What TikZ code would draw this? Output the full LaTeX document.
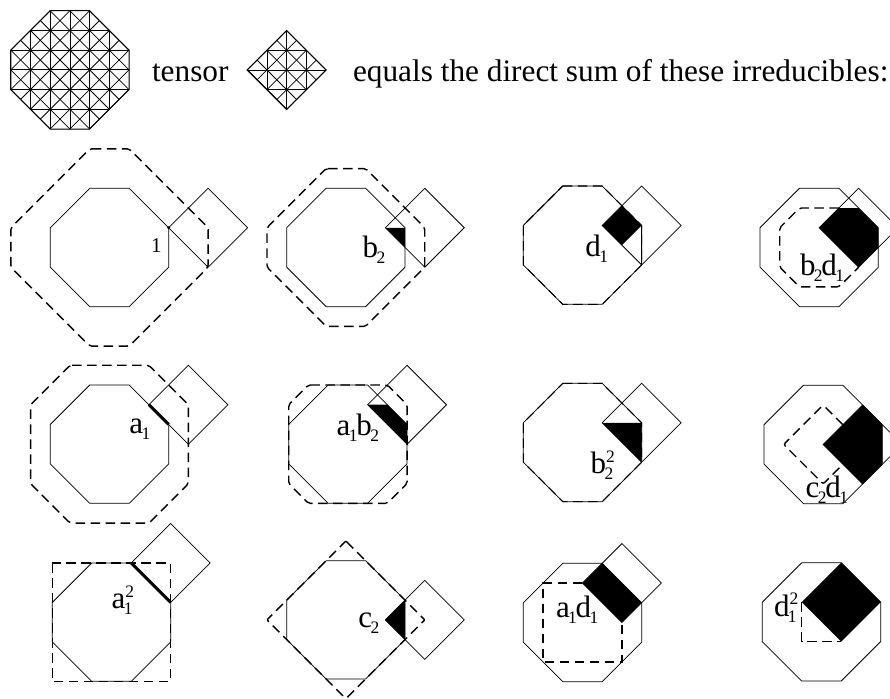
\documentclass[tikz,border=0pt]{standalone}
\usepackage{fontspec}
\setmainfont{Liberation Serif}
\newcommand\lsub[1]{\kern-.05em\raisebox{-.2em}{\fontsize{17.5}{17.5}\selectfont #1}\kern-.04em}
\newcommand\lsup[1]{\raisebox{.36em}{\fontsize{17.5}{17.5}\selectfont #1}}
\newcommand\lboth[2]{\rlap{\lsub{#1}}\lsup{#2}}
\newcommand\octapath{(1,0) -- (2,0) -- (3,1) -- (3,2) -- (2,3) -- (1,3) -- (0,2) -- (0,1) -- cycle}
\newcommand\diam[2]{\draw[thinline] (#1,#2) +(0,-1) -- +(1,0) -- +(0,1) -- +(-1,0) -- cycle;}
\tikzset{
  thinline/.style={draw=black,line width=0.75pt,line join=miter},
  dashline/.style={draw=black,line width=1.4pt,dash pattern=on 9.5pt off 5.5pt,rounded corners=2pt},
  blackfill/.style={fill=black,draw=none},
  heavyline/.style={draw=black,line width=3pt},
  panel/.style args={#1/#2}{shift={(#1,#2)},x=39.45pt,y=-39.45pt},
  lab/.style={anchor=base west,inner sep=0pt,outer sep=0pt,font=\fontsize{31}{31}\selectfont},
  head/.style={anchor=base west,inner sep=0pt,outer sep=0pt,font=\fontsize{31.3}{31.3}\selectfont}
}
\begin{document}
\begin{tikzpicture}[x=1pt,y=-1pt]
\useasboundingbox (0,0) rectangle (890,698);
\fill[white] (0,0) rectangle (890,698);
\clip (0,0) rectangle (890,698);
% weight diagrams of the header
\begin{scope}[panel=10.7/10.7]
  \begin{scope}
    \clip \octapath;
    \foreach \i in {0,...,5}{\foreach \j in {0,...,5}{
      \draw[thinline] (\i/2,\j/2) rectangle ({(\i+1)/2},{(\j+1)/2});
      \draw[thinline] (\i/2,\j/2) -- ({(\i+1)/2},{(\j+1)/2});
      \draw[thinline] ({(\i+1)/2},\j/2) -- (\i/2,{(\j+1)/2});
    }}
  \end{scope}
  \draw[thinline,line width=1.1pt] \octapath;
\end{scope}
\begin{scope}[panel=247.2/30.5]
  \begin{scope}
    \clip (1,0) -- (2,1) -- (1,2) -- (0,1) -- cycle;
    \foreach \i in {0,...,3}{\foreach \j in {0,...,3}{
      \draw[thinline] (\i/2,\j/2) rectangle ({(\i+1)/2},{(\j+1)/2});
      \draw[thinline] (\i/2,\j/2) -- ({(\i+1)/2},{(\j+1)/2});
      \draw[thinline] ({(\i+1)/2},\j/2) -- (\i/2,{(\j+1)/2});
    }}
  \end{scope}
  \draw[thinline,line width=1.1pt] (1,0) -- (2,1) -- (1,2) -- (0,1) -- cycle;
\end{scope}
\node[head] (tensor) at (152,82) {tensor};
\node[head] (eq) at (353,82) {equals the direct sum of these irreducibles:};
% row 1
\begin{scope}[panel=50.3/188.3]
  \draw[thinline] \octapath; \diam{4}{1}
  \fill[black] (3,1) circle (1.6pt);
  \draw[dashline] (1,-1) -- (2,-1) -- (4,1) -- (4,2) -- (2,4) -- (1,4) -- (-1,2) -- (-1,1) -- cycle;
\end{scope}
\begin{scope}[panel=286.7/188.3]
  \draw[thinline] \octapath; \diam{3.5}{1}
  \fill[blackfill] (2.5,1) -- (3,1) -- (3,1.5) -- cycle;
  \draw[dashline] (1,-.5) -- (2,-.5) -- (3.5,1) -- (3.5,2) -- (2,3.5) -- (1,3.5) -- (-.5,2) -- (-.5,1) -- cycle;
\end{scope}
\begin{scope}[panel=523.3/186]
  \draw[thinline] \octapath; \diam{3}{1}
  \fill[blackfill] (2.5,.5) -- (3,1) -- (2.5,1.5) -- (2,1) -- cycle;
  \draw[dashline,rounded corners=0pt,line width=1.1pt] \octapath;
  \draw[dashline,rounded corners=0pt,line width=1.1pt] (3,1) -- (3,2);
\end{scope}
\begin{scope}[panel=760/188.3]
  \draw[thinline] \octapath; \diam{2.5}{1}
  \fill[blackfill] (1.5,1) -- (2,.5) -- (2.5,.5) -- (3,1) -- (3,1.5) -- (2.5,2) -- cycle;
  \draw[dashline] (2,.5) -- (1,.5) -- (.5,1) -- (.5,2) -- (1,2.5) -- (2,2.5) -- (2.5,2);
\end{scope}
% row 2
\begin{scope}[panel=50.3/385]
  \draw[thinline] \octapath; \diam{3.5}{.5}
  \draw[heavyline] (2.5,.5) -- (3,1);
  \draw[dashline] (.5,-.5) -- (2.5,-.5) -- (3.5,.5) -- (3.5,2.5) -- (2.5,3.5) -- (.5,3.5) -- (-.5,2.5) -- (-.5,.5) -- cycle;
\end{scope}
\begin{scope}[panel=288.7/385]
  \draw[thinline] \octapath; \diam{3}{.5}
  \fill[blackfill] (2,.5) -- (2.5,.5) -- (3,1) -- (3,1.5) -- cycle;
  \draw[dashline] (.5,0) -- (2.5,0) -- (3,.5) -- (3,2.5) -- (2.5,3) -- (.5,3) -- (0,2.5) -- (0,.5) -- cycle;
\end{scope}
\begin{scope}[panel=523.3/383.3]
  \draw[thinline] \octapath; \diam{3}{1}
  \fill[blackfill] (2,1) -- (3,1) -- (3,2) -- cycle;
  \draw[dashline,rounded corners=0pt,line width=1.1pt] \octapath;
\end{scope}
\begin{scope}[panel=764/385.3]
  \draw[thinline] \octapath; \diam{2.5}{1.5}
  \draw[dashline] (2,1) -- (1.5,.5) -- (.5,1.5) -- (1.5,2.5) -- (2,2);
  \fill[blackfill] (1.5,1.5) -- (2.5,.5) -- (3,1) -- (3,2) -- (2.5,2.5) -- cycle;
\end{scope}
% row 3
\begin{scope}[panel=52.3/563]
  \draw[thinline] \octapath; \diam{3}{0}
  \draw[heavyline] (2,0) -- (3,1);
  \draw[dashline,rounded corners=0pt] (0,0) rectangle (3,3);
\end{scope}
\begin{scope}[panel=286.7/560.7]
  \draw[thinline] \octapath; \diam{3.5}{1.5}
  \fill[blackfill] (2.5,1.5) -- (3,1) -- (3,2) -- cycle;
  \draw[dashline,rounded corners=1pt] (1.5,-.5) -- (3.5,1.5) -- (1.5,3.5) -- (-.5,1.5) -- cycle;
\end{scope}
\begin{scope}[panel=523.3/563.3]
  \draw[thinline] \octapath; \diam{2.5}{.5}
  \fill[blackfill] (2,0) -- (3,1) -- (2.5,1.5) -- (1.5,.5) -- cycle;
  \draw[dashline,rounded corners=0pt] (1.5,.5) -- (.5,.5) -- (.5,2.5) -- (2.5,2.5) -- (2.5,1.5);
\end{scope}
\begin{scope}[panel=762.3/562.7]
  \draw[thinline] \octapath;
  \fill[blackfill] (2,0) -- (3,1) -- (2,2) -- (1,1) -- cycle;
  \draw[dashline,rounded corners=0pt] (1,1) -- (1,2) -- (2,2);
\end{scope}
% labels
\node[lab,font=\fontsize{21}{21}\selectfont] (l1) at (151,252.7) {1};
\node[lab] (lb) at (362.7,257.7) {b\lsub{2}};
\node[lab] (ld) at (585.3,256.7) {d\lsub{1}};
\node[lab] (lbd) at (800,275) {b\lsub{2}d\lsub{1}};
\node[lab] (la) at (129.3,433.3) {a\lsub{1}};
\node[lab] (lab1) at (336.7,435) {a\lsub{1}b\lsub{2}};
\node[lab] (lbb) at (590.7,473.3) {b\lboth{2}{2}};
\node[lab] (lcd) at (805.7,497.3) {c\lsub{2}d\lsub{1}};
\node[lab] (laa) at (111.7,608.3) {a\lboth{1}{2}};
\node[lab] (lc) at (358.3,627.3) {c\lsub{2}};
\node[lab] (lad) at (556,617.3) {a\lsub{1}d\lsub{1}};
\node[lab] (ldd) at (774,616) {d\lboth{1}{2}};
\end{tikzpicture}
\end{document}
